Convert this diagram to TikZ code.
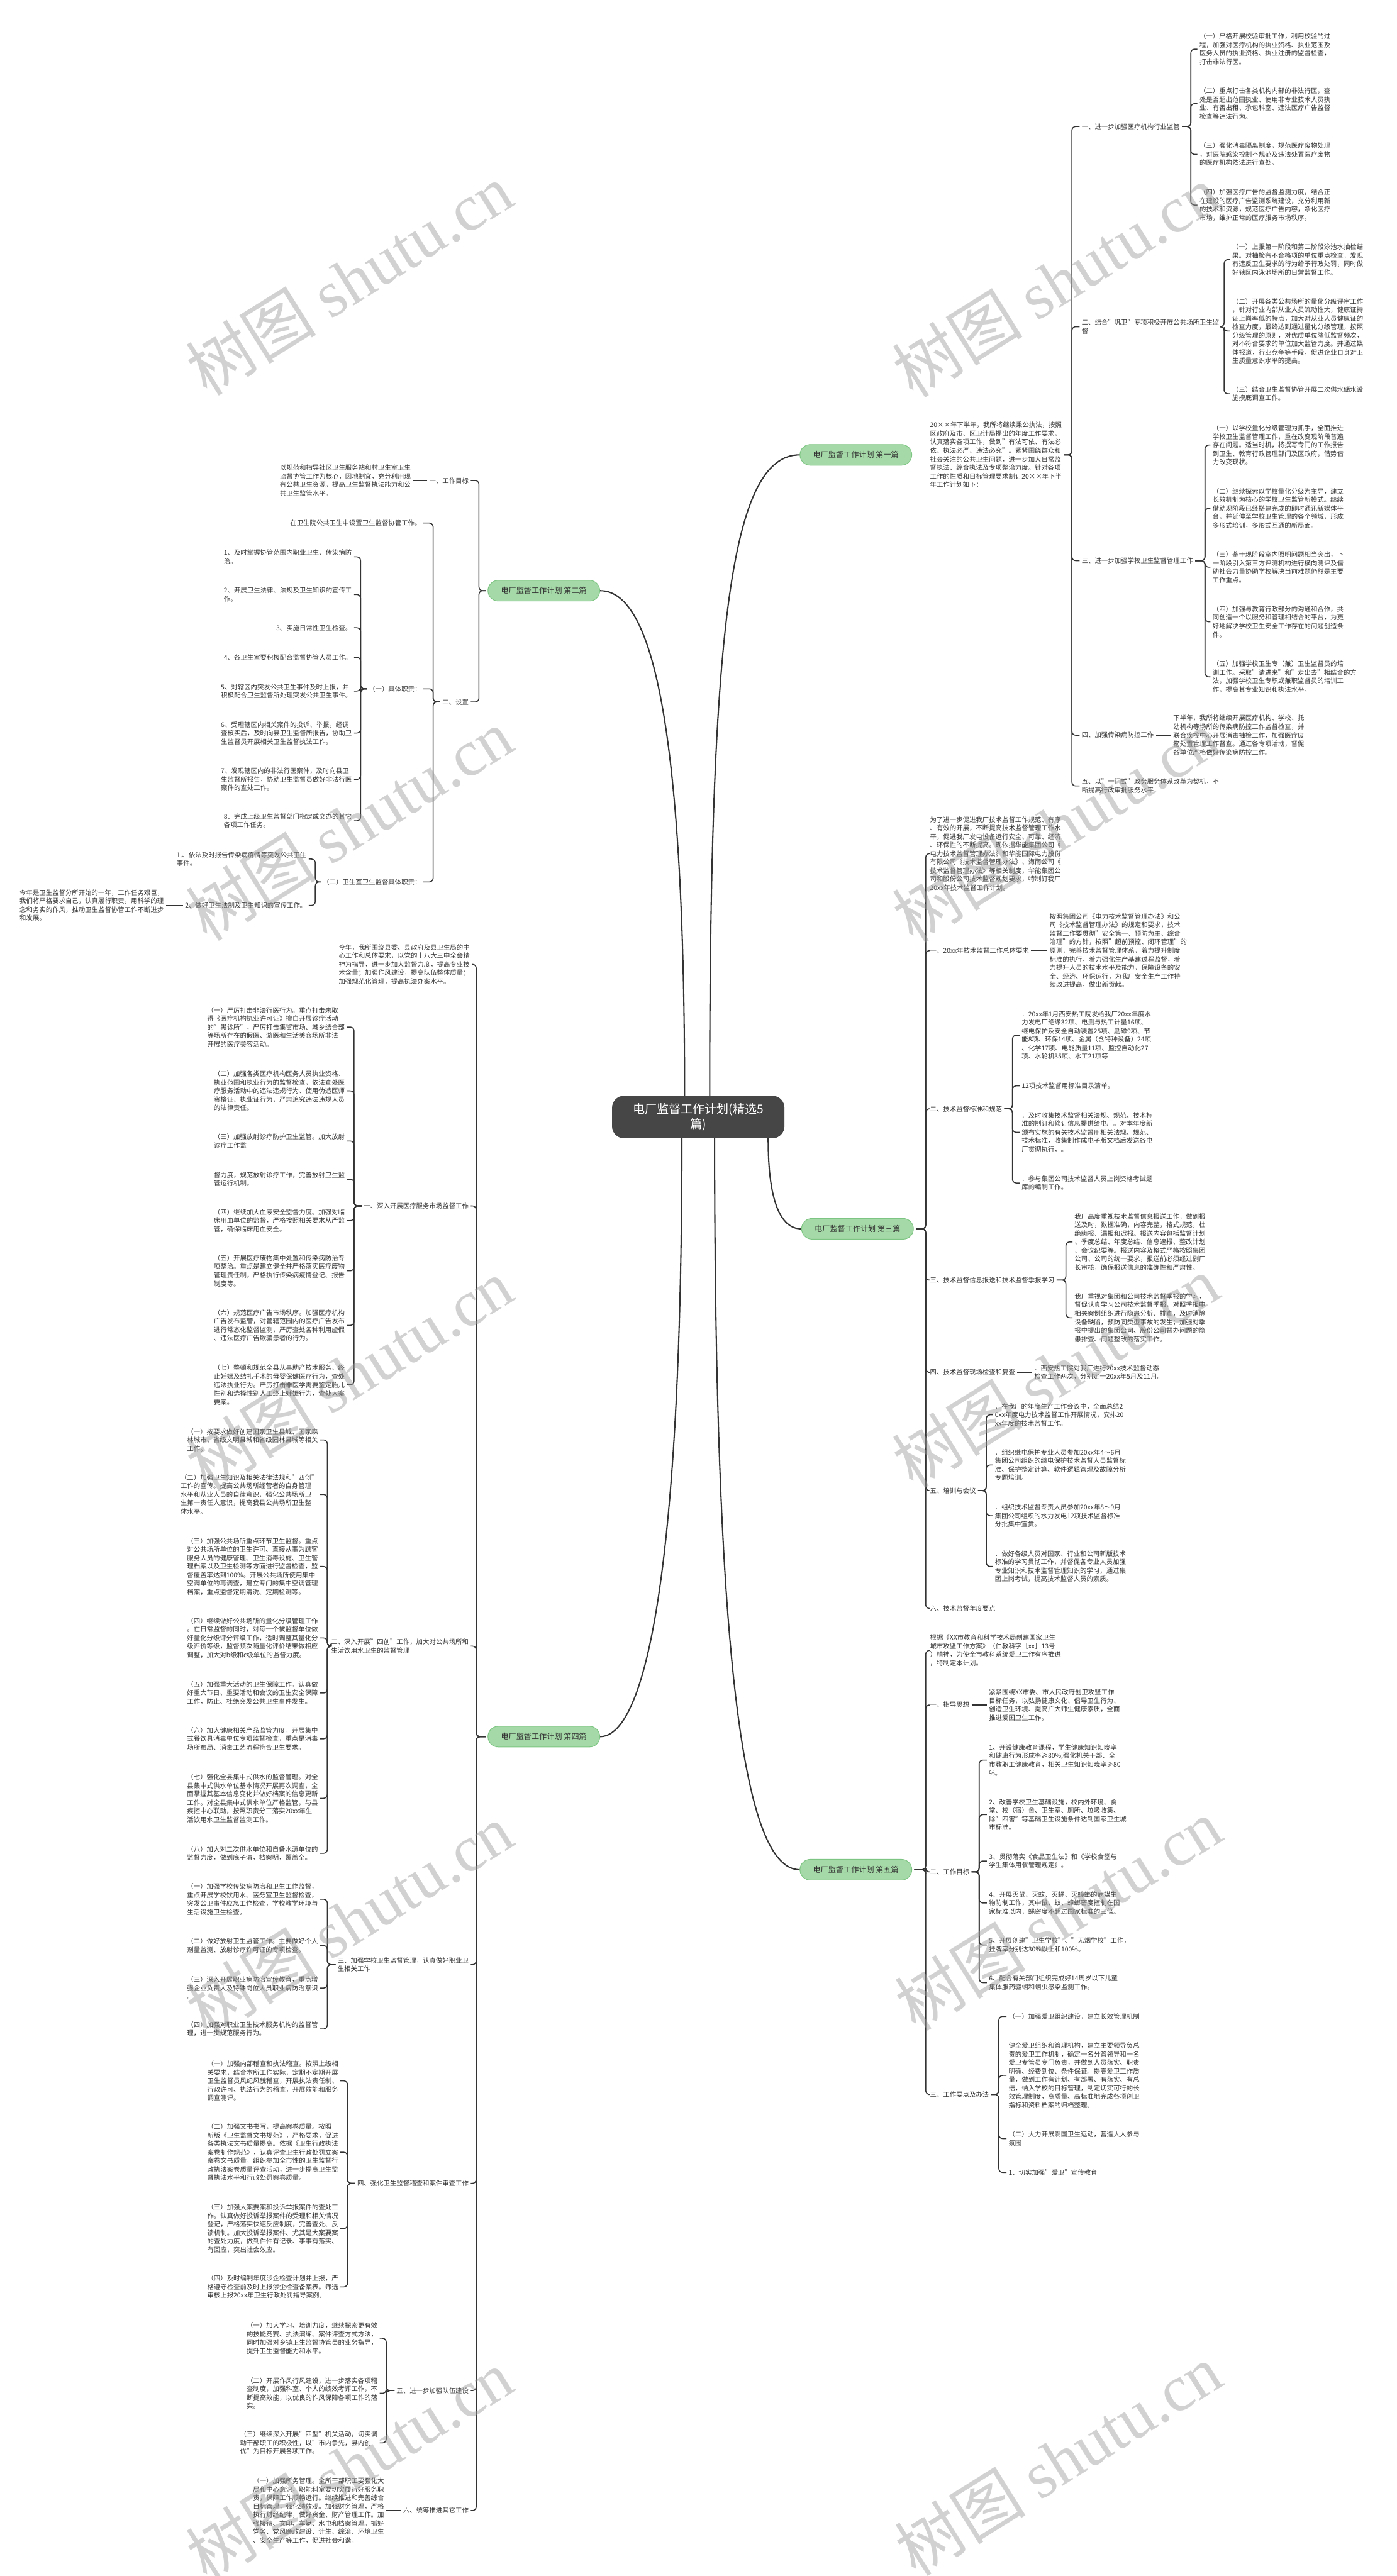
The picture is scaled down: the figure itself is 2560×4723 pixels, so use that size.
\documentclass[tikz,border=0pt]{standalone}
\usepackage{fontspec}
\setmainfont{Noto Sans CJK SC}
\newfontfamily\wmlatin{Liberation Serif}
\XeTeXlinebreaklocale "zh"
\XeTeXlinebreakskip=0pt plus 1pt
\definecolor{txt}{HTML}{333333}
\definecolor{linec}{HTML}{333333}
\definecolor{lgreen}{HTML}{A5D9A7}
\definecolor{lgborder}{HTML}{7DC582}
\definecolor{cdark}{HTML}{464646}
\newcommand\brR[3]{\draw[conn] (#1.east) -- (#2 |- #1.east) |- (#3.west);}
\newcommand\brL[3]{\draw[conn] (#1.west) -- (#2 |- #1.west) |- (#3.east);}
\begin{document}
\begin{tikzpicture}[x=1pt,y=-1pt,
 tr/.style={anchor=west, align=left, inner sep=0pt, outer sep=0pt, text=txt, font=\fontsize{12}{15.6}\selectfont},
 tl/.style={anchor=east, align=left, inner sep=0pt, outer sep=0pt, text=txt, font=\fontsize{12}{15.6}\selectfont},
 conn/.style={draw=linec, line width=1.8pt, rounded corners=7pt, shorten <=4pt, shorten >=4pt},
 mainc/.style={draw=linec, line width=2.4pt},
 lone/.style={draw=lgborder, fill=lgreen, line width=1.2pt, rounded corners=19pt, minimum width=205pt, minimum height=38pt, inner sep=0pt, text=txt, font=\fontsize{14}{16}\selectfont},
 root/.style={fill=cdark, rounded corners=22pt, minimum width=316pt, minimum height=78pt, inner sep=0pt, text=white, align=center, font=\fontsize{22}{28}\selectfont},
 wm/.style={text=black!40, opacity=0.45, rotate=32, inner sep=0pt}
]
\fill[white] (0,0) rectangle (2560,4723);
\useasboundingbox (0,0) rectangle (2560,4723);

% ---------- root and level 1 ----------
\node[root] (root) at (1280,2048) {电厂监督工作计划(精选5\\篇)};
\node[lone] (L1a) at (1569,834) {电厂监督工作计划 第一篇};
\node[lone] (L1b) at (997,1083) {电厂监督工作计划 第二篇};
\node[lone] (L1c) at (1572,2253) {电厂监督工作计划 第三篇};
\node[lone] (L1d) at (997,3184) {电厂监督工作计划 第四篇};
\node[lone] (L1e) at (1569,3428) {电厂监督工作计划 第五篇};

\draw[mainc] ([xshift=21pt]root.north) .. controls (1301,1150) and (1340,834) .. (L1a.west);
\draw[mainc] ([xshift=-25pt]root.north) .. controls (1255,1300) and (1190,1083) .. (L1b.east);
\draw[mainc] ([xshift=-30pt]root.south east) .. controls (1408,2200) and (1430,2253) .. (L1c.west);
\draw[mainc] ([xshift=-30pt]root.south) .. controls (1250,2900) and (1180,3184) .. (L1d.east);
\draw[mainc] ([xshift=30pt]root.south) .. controls (1310,3100) and (1370,3428) .. (L1e.west);

% ---------- bracket x positions ----------
\coordinate (xI1) at (1965,0);
\coordinate (xS1) at (2183,0);
\coordinate (xS2) at (2244,0);
\coordinate (xS3) at (2209,0);
\coordinate (xL1c) at (1697,0);
\coordinate (xT2) at (1856,0);
\coordinate (xT3) at (1954,0);
\coordinate (xT5) at (1808,0);
\coordinate (xL1e) at (1697,0);
\coordinate (xF2) at (1795,0);
\coordinate (xF3) at (1831,0);
\coordinate (xL1b) at (878,0);
\coordinate (xB2) at (794,0);
\coordinate (xB2b) at (661,0);
\coordinate (xB2c) at (578,0);
\coordinate (xL1d) at (873,0);
\coordinate (xD1) at (649,0);
\coordinate (xD2) at (600,0);
\coordinate (xD3) at (600,0);
\coordinate (xD4) at (637,0);
\coordinate (xD5) at (708,0);

% ---------- 第一篇 ----------
\node[tr] (I1) at (1705,834) {20××年下半年，我所将继续秉公执法，按照\\区政府及市、区卫计局提出的年度工作要求，\\认真落实各项工作，做到"有法可依、有法必\\依、执法必严、违法必究"。紧紧围绕群众和\\社会关注的公共卫生问题，进一步加大日常监\\督执法、综合执法及专项整治力度。针对各项\\工作的性质和目标管理要求制订20××年下半\\年工作计划如下：};
\node[tr] (S1) at (1983,232) {一、进一步加强医疗机构行业监管};
\node[tr] (S1a) at (2199,90) {（一）严格开展校验审批工作，利用校验的过\\程，加强对医疗机构的执业资格、执业范围及\\医务人员的执业资格、执业注册的监督检查，\\打击非法行医。};
\node[tr] (S1b) at (2199,190) {（二）重点打击各类机构内部的非法行医，查\\处是否超出范围执业、使用非专业技术人员执\\业、有否出租、承包科室、违法医疗广告监督\\检查等违法行为。};
\node[tr] (S1c) at (2199,283) {（三）强化消毒隔离制度，规范医疗废物处理\\，对医院感染控制不规范及违法处置医疗废物\\的医疗机构依法进行查处。};
\node[tr] (S1d) at (2199,376) {（四）加强医疗广告的监督监测力度，结合正\\在建设的医疗广告监测系统建设，充分利用新\\的技术和资源，规范医疗广告内容，净化医疗\\市场，维护正常的医疗服务市场秩序。};
\node[tr] (S2) at (1983,599) {二、结合"巩卫"专项积极开展公共场所卫生监\\督};
\node[tr] (S2a) at (2259,476) {（一）上报第一阶段和第二阶段泳池水抽检结\\果。对抽检有不合格项的单位重点检查，发现\\有违反卫生要求的行为给予行政处罚，同时做\\好辖区内泳池场所的日常监督工作。};
\node[tr] (S2b) at (2259,607) {（二）开展各类公共场所的量化分级评审工作\\，针对行业内部从业人员流动性大，健康证持\\证上岗率低的特点，加大对从业人员健康证的\\检查力度，最终达到通过量化分级管理，按照\\分级管理的原则，对优质单位降低监督频次，\\对不符合要求的单位加大监管力度。并通过媒\\体报道，行业竞争等手段，促进企业自身对卫\\生质量意识水平的提高。};
\node[tr] (S2c) at (2259,722) {（三）结合卫生监督协管开展二次供水储水设\\施摸底调查工作。};
\node[tr] (S3) at (1983,1028) {三、进一步加强学校卫生监督管理工作};
\node[tr] (S3a) at (2223,816) {（一）以学校量化分级管理为抓手，全面推进\\学校卫生监督管理工作，重在改变现阶段普遍\\存在问题。适当时机，将撰写专门的工作报告\\到卫生、教育行政管理部门及区政府，借势借\\力改变现状。};
\node[tr] (S3b) at (2223,932) {（二）继续探索以学校量化分级为主导，建立\\长效机制为核心的学校卫生监管新模式。继续\\借助现阶段已经搭建完成的即时通讯新媒体平\\台，并延伸至学校卫生管理的各个领域，形成\\多形式培训，多形式互通的新局面。};
\node[tr] (S3c) at (2223,1040) {（三）鉴于现阶段室内照明问题相当突出，下\\一阶段引入第三方评测机构进行横向测评及借\\助社会力量协助学校解决当前难题仍然是主要\\工作重点。};
\node[tr] (S3d) at (2223,1140) {（四）加强与教育行政部分的沟通和合作，共\\同创造一个以服务和管理相结合的平台，为更\\好地解决学校卫生安全工作存在的问题创造条\\件。};
\node[tr] (S3e) at (2223,1241) {（五）加强学校卫生专（兼）卫生监督员的培\\训工作。采取"请进来"和"走出去"相结合的方\\法，加强学校卫生专职或兼职监督员的培训工\\作，提高其专业知识和执法水平。};
\node[tr] (S4) at (1983,1348) {四、加强传染病防控工作};
\node[tr] (S4a) at (2151,1348) {下半年，我所将继续开展医疗机构、学校、托\\幼机构等场所的传染病防控工作监督检查，并\\联合疾控中心开展消毒抽检工作，加强医疗废\\物处置管理工作督查。通过各专项活动，督促\\各单位严格做好传染病防控工作。};
\node[tr] (S5) at (1983,1441) {五、以"一门式"政务服务体系改革为契机，不\\断提高行政审批服务水平};

\draw[conn] (L1a.east) -- (I1.west);
\foreach \c in {S1,S2,S3,S4,S5} {\brR{I1}{xI1}{\c}}
\foreach \c in {S1a,S1b,S1c,S1d} {\brR{S1}{xS1}{\c}}
\foreach \c in {S2a,S2b,S2c} {\brR{S2}{xS2}{\c}}
\foreach \c in {S3a,S3b,S3c,S3d,S3e} {\brR{S3}{xS3}{\c}}
\draw[conn] (S4.east) -- (S4a.west);

% ---------- 第三篇 ----------
\node[tr] (T0) at (1705,1565) {为了进一步促进我厂技术监督工作规范、有序\\、有效的开展，不断提高技术监督管理工作水\\平，促进我厂发电设备运行安全、可靠、经济\\、环保性的不断提高。现依据华能集团公司《\\电力技术监督管理办法》和华能国际电力股份\\有限公司《技术监督管理办法》、海南公司《\\技术监督管理办法》等相关制度，华能集团公\\司和股份公司技术监督规划要求，特制订我厂\\20xx年技术监督工作计划。};
\node[tr] (T1) at (1705,1743) {一、20xx年技术监督工作总体要求};
\node[tr] (T1a) at (1924,1743) {按照集团公司《电力技术监督管理办法》和公\\司《技术监督管理办法》的规定和要求，技术\\监督工作要贯彻"安全第一、预防为主、综合\\治理"的方针，按照"超前预控、闭环管理"的\\原则，完善技术监督管理体系，着力提升制度\\标准的执行，着力强化生产基建过程监督，着\\力提升人员的技术水平及能力，保障设备的安\\全、经济、环保运行，为我厂安全生产工作持\\续改进提高，做出新贡献。};
\node[tr] (T2) at (1705,2033) {二、技术监督标准和规范};
\node[tr] (T2a) at (1873,1898) {．20xx年1月西安热工院发给我厂20xx年度水\\力发电厂绝缘32项、电测与热工计量16项、\\继电保护及安全自动装置25项、励磁9项、节\\能8项、环保14项、金属（含特种设备）24项\\、化学17项、电能质量11项、监控自动化27\\项、水轮机35项、水工21项等};
\node[tr] (T2b) at (1873,1991) {12项技术监督用标准目录清单。};
\node[tr] (T2c) at (1873,2076) {．及时收集技术监督相关法规、规范、技术标\\准的制订和修订信息提供给电厂。对本年度新\\颁布实施的有关技术监督用相关法规、规范、\\技术标准，收集制作成电子版文档后发送各电\\厂贯彻执行，。};
\node[tr] (T2d) at (1873,2169) {．参与集团公司技术监督人员上岗资格考试题\\库的编制工作。};
\node[tr] (T3) at (1705,2347) {三、技术监督信息报送和技术监督季报学习};
\node[tr] (T3a) at (1970,2277) {我厂高度重视技术监督信息报送工作，做到报\\送及时，数据准确，内容完整，格式规范，杜\\绝瞒报、漏报和迟报。报送内容包括监督计划\\、季度总结、年度总结、信息速报、整改计划\\、会议纪要等。报送内容及格式严格按照集团\\公司、公司的统一要求，报送前必须经过副厂\\长审核，确保报送信息的准确性和严肃性。};
\node[tr] (T3b) at (1970,2416) {我厂重视对集团和公司技术监督季报的学习，\\督促认真学习公司技术监督季报，对照季报中\\相关案例组织进行隐患分析、排查，及时消除\\设备缺陷，预防同类型事故的发生；加强对季\\报中提出的集团公司、股份公司督办问题的隐\\患排查、问题整改的落实工作。};
\node[tr] (T4) at (1705,2516) {四、技术监督现场检查和复查};
\node[tr] (T4a) at (1896,2516) {．西安热工院对我厂进行20xx技术监督动态\\检查工作两次，分别定于20xx年5月及11月。};
\node[tr] (T5) at (1705,2733) {五、培训与会议};
\node[tr] (T5a) at (1824,2594) {．在我厂的年度生产工作会议中，全面总结2\\0xx年度电力技术监督工作开展情况，安排20\\xx年度的技术监督工作。};
\node[tr] (T5b) at (1824,2686) {．组织继电保护专业人员参加20xx年4～6月\\集团公司组织的继电保护技术监督人员监督标\\准、保护整定计算、软件逻辑管理及故障分析\\专题培训。};
\node[tr] (T5c) at (1824,2779) {．组织技术监督专责人员参加20xx年8～9月\\集团公司组织的水力发电12项技术监督标准\\分批集中宣贯。};
\node[tr] (T5d) at (1824,2872) {．做好各级人员对国家、行业和公司新版技术\\标准的学习贯彻工作，并督促各专业人员加强\\专业知识和技术监督管理知识的学习，通过集\\团上岗考试，提高技术监督人员的素质。};
\node[tr] (T6) at (1705,2949) {六、技术监督年度要点};

\foreach \c in {T0,T1,T2,T3,T4,T5,T6} {\brR{L1c}{xL1c}{\c}}
\draw[conn] (T1.east) -- (T1a.west);
\foreach \c in {T2a,T2b,T2c,T2d} {\brR{T2}{xT2}{\c}}
\foreach \c in {T3a,T3b} {\brR{T3}{xT3}{\c}}
\draw[conn] (T4.east) -- (T4a.west);
\foreach \c in {T5a,T5b,T5c,T5d} {\brR{T5}{xT5}{\c}}

% ---------- 第五篇 ----------
\node[tr] (F0) at (1705,3026) {根据《XX市教育和科学技术局创建国家卫生\\城市攻坚工作方案》（仁教科字［xx］13号\\）精神，为使全市教科系统爱卫工作有序推进\\，特制定本计划。};
\node[tr] (F1) at (1705,3126) {一、指导思想};
\node[tr] (F1a) at (1813,3126) {紧紧围绕XX市委、市人民政府创卫攻坚工作\\目标任务，以弘扬健康文化、倡导卫生行为、\\创造卫生环境、提高广大师生健康素质，全面\\推进爱国卫生工作。};
\node[tr] (F2) at (1705,3432) {二、工作目标};
\node[tr] (F2a) at (1813,3227) {1、开设健康教育课程，学生健康知识知晓率\\和健康行为形成率≥80\%;强化机关干部、全\\市教职工健康教育，相关卫生知识知晓率≥80\\\%。};
\node[tr] (F2b) at (1813,3327) {2、改善学校卫生基础设施，校内外环境、食\\堂、校（宿）舍、卫生室、厕所、垃圾收集、\\除"四害"等基础卫生设施条件达到国家卫生城\\市标准。};
\node[tr] (F2c) at (1813,3412) {3、贯彻落实《食品卫生法》和《学校食堂与\\学生集体用餐管理规定》。};
\node[tr] (F2d) at (1813,3489) {4、开展灭鼠、灭蚊、灭蝇、灭蟑螂的病媒生\\物防制工作，其中鼠、蚊、蟑螂密度控制在国\\家标准以内，蝇密度不超过国家标准的三倍。};
\node[tr] (F2e) at (1813,3566) {5、开展创建"卫生学校"、"无烟学校"工作，\\挂牌率分别达30\%以上和100\%。};
\node[tr] (F2f) at (1813,3635) {6、配合有关部门组织完成好14周岁以下儿童\\集体服药驱蛔和蛔虫感染监测工作。};
\node[tr] (F3) at (1705,3840) {三、工作要点及办法};
\node[tr] (F3a) at (1849,3697) {（一）加强爱卫组织建设，建立长效管理机制};
\node[tr] (F3b) at (1849,3805) {健全爱卫组织和管理机构，建立主要领导负总\\责的爱卫工作机制，确定一名分管领导和一名\\爱卫专管员专门负责，并做到人员落实、职责\\明确、经费到位、条件保证。提高爱卫工作质\\量，做到工作有计划、有部署、有落实、有总\\结，纳入学校的目标管理，制定切实可行的长\\效管理制度，高质量、高标准地完成各项创卫\\指标和资料档案的归档整理。};
\node[tr] (F3c) at (1849,3921) {（二）大力开展爱国卫生运动，营造人人参与\\氛围};
\node[tr] (F3d) at (1849,3983) {1、切实加强"爱卫"宣传教育};

\foreach \c in {F0,F1,F2,F3} {\brR{L1e}{xL1e}{\c}}
\draw[conn] (F1.east) -- (F1a.west);
\foreach \c in {F2a,F2b,F2c,F2d,F2e,F2f} {\brR{F2}{xF2}{\c}}
\foreach \c in {F3a,F3b,F3c,F3d} {\brR{F3}{xF3}{\c}}

% ---------- 第二篇 ----------
\node[tl] (B1) at (859,881) {一、工作目标};
\node[tl] (B1a) at (753,881) {以规范和指导社区卫生服务站和村卫生室卫生\\监督协管工作为核心，因地制宜，充分利用现\\有公共卫生资源，提高卫生监督执法能力和公\\共卫生监管水平。};
\node[tl] (B2) at (859,1287) {二、设置};
\node[tl] (B2a) at (772,959) {在卫生院公共卫生中设置卫生监督协管工作。};
\node[tl] (B2b) at (772,1263) {（一）具体职责：};
\node[tl] (B2b1) at (645,1021) {1、及时掌握协管范围内职业卫生、传染病防\\治。};
\node[tl] (B2b2) at (645,1090) {2、开展卫生法律、法规及卫生知识的宣传工\\作。};
\node[tl] (B2b3) at (645,1151) {3、实施日常性卫生检查。};
\node[tl] (B2b4) at (645,1205) {4、各卫生室要积极配合监督协管人员工作。};
\node[tl] (B2b5) at (645,1267) {5、对辖区内突发公共卫生事件及时上报，并\\积极配合卫生监督所处理突发公共卫生事件。};
\node[tl] (B2b6) at (645,1344) {6、受理辖区内相关案件的投诉、举报，经调\\查核实后，及时向县卫生监督所报告，协助卫\\生监督员开展相关卫生监督执法工作。};
\node[tl] (B2b7) at (645,1429) {7、发现辖区内的非法行医案件，及时向县卫\\生监督所报告，协助卫生监督员做好非法行医\\案件的查处工作。};
\node[tl] (B2b8) at (645,1505) {8、完成上级卫生监督部门指定或交办的其它\\各项工作任务。};
\node[tl] (B2c) at (772,1617) {（二）卫生室卫生监督具体职责：};
\node[tl] (B2c1) at (562,1575) {1.、依法及时报告传染病疫情等突发公共卫生\\事件。};
\node[tl] (B2c2) at (562,1660) {2、做好卫生法制及卫生知识的宣传工作。};
\node[tl] (B2c2a) at (300,1660) {今年是卫生监督分所开始的一年，工作任务艰巨，\\我们将严格要求自己，认真履行职责，用科学的理\\念和务实的作风，推动卫生监督协管工作不断进步\\和发展。};

\foreach \c in {B1,B2} {\brL{L1b}{xL1b}{\c}}
\draw[conn] (B1.west) -- (B1a.east);
\foreach \c in {B2a,B2b,B2c} {\brL{B2}{xB2}{\c}}
\foreach \c in {B2b1,B2b2,B2b3,B2b4,B2b5,B2b6,B2b7,B2b8} {\brL{B2b}{xB2b}{\c}}
\foreach \c in {B2c1,B2c2} {\brL{B2c}{xB2c}{\c}}
\draw[conn] (B2c2.west) -- (B2c2a.east);

% ---------- 第四篇 ----------
\node[tl] (D0) at (861,1768) {今年，我所围绕县委、县政府及县卫生局的中\\心工作和总体要求，以党的十八大三中全会精\\神为指导，进一步加大监督力度，提高专业技\\术含量；加强作风建设，提高队伍整体质量；\\加强规范化管理，提高执法办案水平。};
\node[tl] (D1) at (859,2211) {一、深入开展医疗服务市场监督工作};
\node[tl] (D1a) at (632,1883) {（一）严厉打击非法行医行为。重点打击未取\\得《医疗机构执业许可证》擅自开展诊疗活动\\的"黑诊所"，严厉打击集贸市场、城乡结合部\\等场所存在的假医、游医和生活美容场所非法\\开展的医疗美容活动。};
\node[tl] (D1b) at (632,2000) {（二）加强各类医疗机构医务人员执业资格、\\执业范围和执业行为的监督检查，依法查处医\\疗服务活动中的违法违规行为、使用伪造医师\\资格证、执业证行为，严肃追究违法违规人员\\的法律责任。};
\node[tl] (D1c) at (632,2092) {（三）加强放射诊疗防护卫生监管。加大放射\\诊疗工作监};
\node[tl] (D1d) at (632,2162) {督力度，规范放射诊疗工作，完善放射卫生监\\管运行机制。};
\node[tl] (D1e) at (632,2238) {（四）继续加大血液安全监督力度。加强对临\\床用血单位的监督，严格按照相关要求从严监\\管，确保临床用血安全。};
\node[tl] (D1f) at (632,2330) {（五）开展医疗废物集中处置和传染病防治专\\项整治。重点是建立健全并严格落实医疗废物\\管理责任制，严格执行传染病疫情登记、报告\\制度等。};
\node[tl] (D1g) at (632,2430) {（六）规范医疗广告市场秩序。加强医疗机构\\广告发布监管，对管辖范围内的医疗广告发布\\进行常态化监督监测，严厉查处各种利用虚假\\、违法医疗广告欺骗患者的行为。};
\node[tl] (D1h) at (632,2539) {（七）整顿和规范全县从事助产技术服务、终\\止妊娠及结扎手术的母婴保健医疗行为，查处\\违法执业行为。严厉打击非医学需要鉴定胎儿\\性别和选择性别人工终止妊娠行为，查处大案\\要案。};
\node[tl] (D2) at (859,3018) {二、深入开展"四创"工作，加大对公共场所和\\生活饮用水卫生的监督管理};
\node[tl] (D2a) at (583,2640) {（一）按要求做好创建国家卫生县城、国家森\\林城市、省级文明县城和省级园林县城等相关\\工作。};
\node[tl] (D2b) at (583,2740) {（二）加强卫生知识及相关法律法规和"四创"\\工作的宣传。提高公共场所经营者的自身管理\\水平和从业人员的自律意识，强化公共场所卫\\生第一责任人意识，提高我县公共场所卫生整\\体水平。};
\node[tl] (D2c) at (583,2872) {（三）加强公共场所重点环节卫生监督。重点\\对公共场所单位的卫生许可、直接从事为顾客\\服务人员的健康管理、卫生消毒设施、卫生管\\理档案以及卫生检测等方面进行监督检查，监\\督覆盖率达到100\%。开展公共场所使用集中\\空调单位的再调查，建立专门的集中空调管理\\档案，重点监督定期清洗、定期检测等。};
\node[tl] (D2d) at (583,3003) {（四）继续做好公共场所的量化分级管理工作\\。在日常监督的同时，对每一个被监督单位做\\好量化分级评分评级工作，适时调整其量化分\\级评价等级，监督频次随量化评价结果做相应\\调整，加大对b级和c级单位的监督力度。};
\node[tl] (D2e) at (583,3104) {（五）加强重大活动的卫生保障工作。认真做\\好重大节日、重要活动和会议的卫生安全保障\\工作，防止、杜绝突发公共卫生事件发生。};
\node[tl] (D2f) at (583,3188) {（六）加大健康相关产品监管力度。开展集中\\式餐饮具消毒单位专项监督检查，重点是消毒\\场所布局、消毒工艺流程符合卫生要求。};
\node[tl] (D2g) at (583,3297) {（七）强化全县集中式供水的监督管理。对全\\县集中式供水单位基本情况开展再次调查，全\\面掌握其基本信息变化并做好档案的信息更新\\工作。对全县集中式供水单位严格监管，与县\\疾控中心联动，按照职责分工落实20xx年生\\活饮用水卫生监督监测工作。};
\node[tl] (D2h) at (583,3398) {（八）加大对二次供水单位和自备水源单位的\\监督力度，做到底子清，档案明，覆盖全。};
\node[tl] (D3) at (859,3602) {三、加强学校卫生监督管理，认真做好职业卫\\生相关工作};
\node[tl] (D3a) at (583,3482) {（一）加强学校传染病防治和卫生工作监督，\\重点开展学校饮用水、医务室卫生监督检查，\\突发公卫事件应急工作检查，学校教学环境与\\生活设施卫生检查。};
\node[tl] (D3b) at (583,3567) {（二）做好放射卫生监管工作。主要做好个人\\剂量监测、放射诊疗许可证的专项检查。};
\node[tl] (D3c) at (583,3645) {（三）深入开展职业病防治宣传教育，重点增\\强企业负责人及特殊岗位人员职业病防治意识\\。};
\node[tl] (D3d) at (583,3720) {（四）加强对职业卫生技术服务机构的监督管\\理，进一步规范服务行为。};
\node[tl] (D4) at (859,4003) {四、强化卫生监督稽查和案件审查工作};
\node[tl] (D4a) at (620,3815) {（一）加强内部稽查和执法稽查。按照上级相\\关要求，结合本所工作实际，定期不定期开展\\卫生监督员风纪风貌稽查，开展执法责任制、\\行政许可、执法行为的稽查，开展效能和服务\\调查测评。};
\node[tl] (D4b) at (620,3946) {（二）加强文书书写，提高案卷质量。按照\\新版《卫生监督文书规范》，严格要求，促进\\各类执法文书质量提高。依据《卫生行政执法\\案卷制作规范》，认真评查卫生行政处罚立案\\案卷文书质量，组织参加全市性的卫生监督行\\政执法案卷质量评查活动，进一步提高卫生监\\督执法水平和行政处罚案卷质量。};
\node[tl] (D4c) at (620,4086) {（三）加强大案要案和投诉举报案件的查处工\\作。认真做好投诉举报案件的受理和相关情况\\登记，严格落实快速反应制度，完善查处、反\\馈机制。加大投诉举报案件、尤其是大案要案\\的查处力度，做到件件有记录、事事有落实、\\有回应，突出社会效应。};
\node[tl] (D4d) at (620,4193) {（四）及时编制年度涉企检查计划并上报，严\\格遵守检查前及时上报涉企检查备案表。筛选\\审核上报20xx年卫生行政处罚指导案例。};
\node[tl] (D5) at (859,4383) {五、进一步加强队伍建设};
\node[tl] (D5a) at (692,4287) {（一）加大学习、培训力度，继续探索更有效\\的技能竞赛、执法演练、案件评查方式方法，\\同时加强对乡镇卫生监督协管员的业务指导，\\提升卫生监督能力和水平。};
\node[tl] (D5b) at (692,4388) {（二）开展作风行风建设，进一步落实各项稽\\查制度，加强科室、个人的绩效考评工作，不\\断提高效能，以优良的作风保障各项工作的落\\实。};
\node[tl] (D5c) at (692,4479) {（三）继续深入开展"四型"机关活动，切实调\\动干部职工的积极性，以"市内争先，县内创\\优"为目标开展各项工作。};
\node[tl] (D6) at (859,4603) {六、统筹推进其它工作};
\node[tl] (D6a) at (704,4603) {（一）加强所务管理。全所干部职工要强化大\\局和中心意识，职能科室要切实履行好服务职\\责，保障工作顺畅运行。继续推进和完善综合\\目标管理，强化绩效观。加强财务管理，严格\\执行财经纪律，做好资金、财产管理工作。加\\强接待、文印、车辆、水电和档案管理。抓好\\党务、党风廉政建设、计生、综治、环境卫生\\、安全生产等工作，促进社会和谐。};

\foreach \c in {D0,D1,D2,D3,D4,D5,D6} {\brL{L1d}{xL1d}{\c}}
\foreach \c in {D1a,D1b,D1c,D1d,D1e,D1f,D1g,D1h} {\brL{D1}{xD1}{\c}}
\foreach \c in {D2a,D2b,D2c,D2d,D2e,D2f,D2g,D2h} {\brL{D2}{xD2}{\c}}
\foreach \c in {D3a,D3b,D3c,D3d} {\brL{D3}{xD3}{\c}}
\foreach \c in {D4a,D4b,D4c,D4d} {\brL{D4}{xD4}{\c}}
\foreach \c in {D5a,D5b,D5c} {\brL{D5}{xD5}{\c}}
\draw[conn] (D6.west) -- (D6a.east);

% ---------- watermarks ----------
\foreach \wx/\wy [count=\i] in {640/512,640/1512,640/2520,640/3520,640/4520,1935/515,1935/1515,1935/2515,1940/3510,1940/4510} {
  \node[wm] (wm\i) at (\wx,\wy) {\fontsize{120}{120}\selectfont 树图 {\wmlatin shutu.cn}};
}
\end{tikzpicture}
\end{document}
